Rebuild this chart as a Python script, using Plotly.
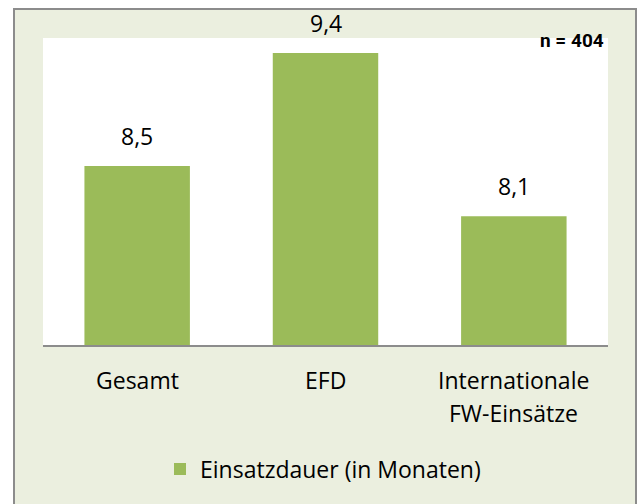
import plotly.graph_objects as go

categories = ["Gesamt", "EFD", "Internationale<br>FW-Einsätze"]
values = [8.5, 9.4, 8.1]
series_name = "Einsatzdauer (in Monaten)"
n_label = "n = 404"

W, H = 638, 504
L, R, T, B = 43, 638 - 608, 38, 504 - 345
pw, ph = W - L - R, H - T - B

def px_x(px):
    return (px - L) / pw

def px_y(py):
    return (H - B - py) / ph

BAR = "#9BBB59"
BG = "#EBEFDF"
FONT = "Open Sans, Liberation Sans, sans-serif"
FS = 23

fig = go.Figure()
fig.add_trace(go.Bar(
    x=categories, y=values, name=series_name,
    marker=dict(color=BAR, line=dict(width=0)),
    showlegend=True, hoverinfo="skip",
))

for c, v in zip(categories, values):
    fig.add_annotation(
        x=c, y=v, xref="x", yref="y",
        text=f"{v:.1f}".replace(".", ","),
        showarrow=False, yanchor="bottom", yshift=12,
        font=dict(family=FONT, size=FS, color="#000000"),
    )

# category labels, one line per annotation
for c in categories:
    for i, line in enumerate(c.split("<br>")):
        fig.add_annotation(
            x=c, xref="x", y=px_y(380 + 33 * i), yref="paper",
            text=line, showarrow=False, yanchor="middle",
            font=dict(family=FONT, size=FS, color="#000000"),
        )

fig.add_annotation(
    x=px_x(606), y=px_y(40), xref="paper", yref="paper",
    xanchor="right", yanchor="middle", showarrow=False,
    text="<b>" + n_label + "</b>",
    font=dict(family="Roboto, Liberation Sans, sans-serif", size=19, color="#000000"),
)

fig.update_layout(
    width=W, height=H,
    margin=dict(l=L, r=R, t=T, b=B),
    paper_bgcolor="white",
    plot_bgcolor="white",
    bargap=0.44,
    font=dict(family=FONT, size=FS, color="#000000"),
    shapes=[
        dict(type="rect", xref="paper", yref="paper",
             x0=px_x(14), x1=px_x(636), y0=px_y(520), y1=px_y(9),
             fillcolor=BG, line=dict(color="#8C8C8C", width=2), layer="below"),
        dict(type="rect", xref="paper", yref="paper",
             x0=0, x1=1, y0=0, y1=1,
             fillcolor="white", line=dict(width=0), layer="below"),
    ],
    legend=dict(
        orientation="h", x=px_x(160), xanchor="left",
        y=px_y(469), yanchor="middle",
        bgcolor="rgba(0,0,0,0)",
        font=dict(family=FONT, size=FS, color="#000000"),
    ),
    xaxis=dict(
        showline=True, linecolor="#8C8C8C", linewidth=2,
        ticks="", showgrid=False, showticklabels=False,
    ),
    yaxis=dict(
        range=[7.075, 9.52], visible=False, showgrid=False, zeroline=False,
    ),
)

fig.write_html(
    "out.html",
    config={"displayModeBar": False},
    post_script="document.body.style.margin='0';document.body.style.overflow='hidden';",
)
